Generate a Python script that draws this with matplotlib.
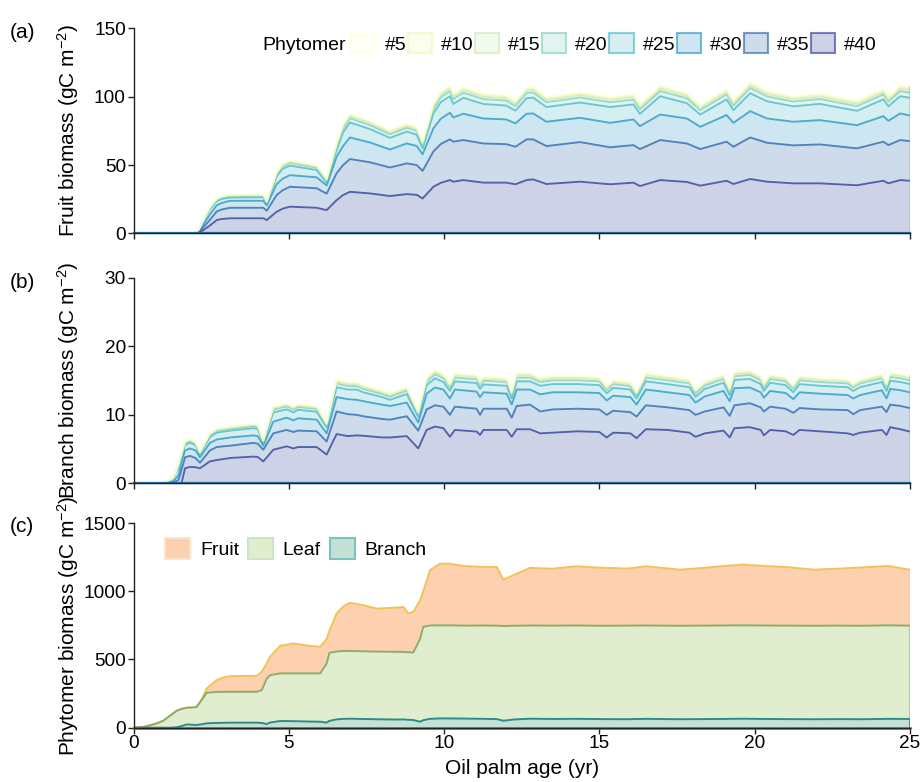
import numpy as np
import matplotlib
matplotlib.use('Agg')
import matplotlib.pyplot as plt
from matplotlib.patches import Patch
from matplotlib.colors import to_rgba

plt.rcParams['font.family'] = ['Liberation Sans', 'DejaVu Sans']
plt.rcParams['mathtext.fontset'] = 'custom'
plt.rcParams['mathtext.rm'] = 'Liberation Sans'
plt.rcParams['mathtext.it'] = 'Liberation Sans:italic'

# ---------------- data ----------------
phytomer_labels = ['#5', '#10', '#15', '#20', '#25', '#30', '#35', '#40']

# (a) fruit biomass per phytomer group (gC m-2)
t_a = [0, 1.95, 2.1, 2.25, 2.45, 2.68, 2.85, 3.11, 4.18, 4.29, 4.61, 4.8, 5.04, 5.9, 6.22, 6.54, 6.75, 6.97,
       7.62, 8.26, 8.8, 9.12, 9.31, 9.66, 9.9, 10.19,
       10.3, 10.62, 11.27, 12.0, 12.3, 12.66, 12.87, 13.3, 14.38, 15.35, 16.1, 16.31, 16.96, 17.82, 18.25,
       19.1, 19.32, 19.86, 20.4, 21.25, 22.1, 23.3, 24.15, 24.31, 24.69, 25.0]
fruit_p5 = [0, 0, 3, 9.7, 19, 25.5, 27.3, 28.3, 28.5, 23.5, 45, 51, 53.6, 50, 40, 66, 80, 87.8, 82.5, 75.6, 80.5,
            78, 67.1, 95, 104, 108.5,
            102.4, 107.3, 102.4, 101.2, 97.1, 107, 107.5, 100, 103.6, 100, 102, 94.6, 108.5, 103, 94, 106, 97.5,
            110.9, 104.5, 100.5, 102.5, 97, 106, 100.5, 108.5, 107.3]
fruit_p10 = [0, 0, 2.9, 9.6, 18.8, 25.2, 27.0, 28.0, 28.2, 23.3, 44.6, 50.5, 53.1, 49.5, 39.6, 65.3, 79.2, 86.9,
             81.7, 74.8, 79.7, 77.2, 66.4, 94.1, 103, 107.4,
             101.4, 106.2, 101.4, 100.2, 96.1, 105.9, 106.4, 99.0, 102.6, 99.0, 101.0, 93.7, 107.4, 102.0, 93.1,
             104.9, 96.5, 109.8, 103.5, 99.5, 101.5, 96.0, 104.9, 99.5, 107.4, 106.2]
fruit_p15 = [0, 0, 2.8, 9.5, 18.5, 24.9, 26.7, 27.7, 27.9, 23.0, 44.0, 49.9, 52.4, 48.9, 39.1, 64.5, 78.2, 85.9,
             80.7, 73.9, 78.7, 76.3, 65.6, 92.9, 101.7, 106.1,
             100.1, 104.9, 100.1, 99.0, 95.0, 104.6, 105.1, 97.8, 101.3, 97.8, 99.8, 92.5, 106.1, 100.7, 91.9,
             103.7, 95.4, 108.5, 102.2, 98.3, 100.2, 94.9, 103.7, 98.3, 106.1, 104.9]
fruit_p20 = [0, 0, 2.6, 9.3, 18.2, 24.5, 26.2, 27.2, 27.4, 22.6, 43.2, 49.0, 51.5, 48.0, 38.4, 63.4, 76.8, 84.3,
             79.2, 72.6, 77.3, 74.9, 64.4, 91.2, 99.8, 104.2,
             98.3, 103.0, 98.3, 97.2, 93.2, 102.7, 103.2, 96.0, 99.5, 96.0, 97.9, 90.8, 104.2, 98.9, 90.2, 101.8,
             93.6, 106.5, 100.3, 96.5, 98.4, 93.1, 101.8, 96.5, 104.2, 103.0]
fruit_p25 = [0, 0, 2.3, 9.0, 17.4, 23.6, 25.2, 26.2, 26.4, 21.7, 41.6, 47.2, 49.6, 46.3, 37.0, 61.1, 74, 81.2,
             76.3, 69.9, 74.5, 72.2, 62.1, 87.9, 96.2, 100.4,
             94.7, 99.3, 94.7, 93.6, 89.8, 99.0, 99.4, 92.5, 95.8, 92.5, 94.4, 87.5, 100.4, 95.3, 87.0, 98.1,
             90.2, 102.6, 96.7, 93.0, 94.8, 89.7, 98.1, 93.0, 100.4, 99.3]
fruit_p30 = [0, 0, 1.2, 6.5, 13.5, 20.5, 22.3, 23.8, 23.8, 20.5, 36, 40, 42.6, 41, 35, 56, 64, 70.2, 66.5, 61.4,
             65.8, 64, 57.9, 77, 84, 88.3,
             84.9, 87.6, 84.1, 83.4, 80.5, 87.6, 87.8, 81.7, 84.6, 80.9, 83.4, 78.5, 87.0, 84.1, 78.0, 86.6, 80.9,
             89.5, 84.1, 81.7, 82.9, 79.2, 85.8, 82.4, 87.8, 86.3]
fruit_p35 = [0, 0, 0.6, 4.5, 9.5, 16, 17.5, 18.7, 18.7, 16.5, 28, 31.5, 34.1, 33, 29, 44, 50, 54.4, 52, 48.2,
             51.2, 50, 45.7, 60, 65.5, 68.8,
             67.1, 68.3, 65.8, 65.3, 63.4, 68.8, 68.8, 63.9, 66.8, 63.0, 64.6, 61.7, 68.3, 65.8, 61.7, 67.1, 63.4,
             70.2, 66.3, 64.4, 65.1, 62.2, 67.1, 64.6, 68.3, 67.5]
fruit_p40 = [0, 0, 0.2, 2.4, 5.5, 9.7, 10.5, 11.0, 11.0, 9.7, 15.8, 18.0, 19.5, 18.7, 17.0, 24.3, 28, 30.4,
             29.2, 27.3, 28.7, 28.2, 25.5, 34.1, 37, 39.0,
             37.8, 39.0, 37.1, 37.1, 35.9, 39.0, 39.5, 36.1, 37.8, 35.9, 37.1, 34.6, 39.0, 37.6, 34.9, 38.5, 36.1,
             39.8, 37.8, 36.6, 36.6, 35.2, 38.5, 36.6, 39.0, 38.5]

# (b) branch biomass per phytomer group (gC m-2)
t_b = [0, 0.95, 1.28, 1.45, 1.55, 1.66, 1.82, 2.0, 2.14, 2.46, 2.68, 3.11, 3.86, 4.0, 4.18, 4.5, 4.93, 5.15,
       5.3, 5.9, 6.22, 6.54, 6.9, 7.19, 7.4, 8.0, 8.26, 8.8, 9.17, 9.44, 9.71, 9.98, 10.19, 10.35, 11.05, 11.16,
       11.27, 12.02, 12.18, 12.34, 12.77, 13.1, 13.5, 14.3, 15.0, 15.24, 15.45, 16.0, 16.2, 16.5, 17.2, 17.9,
       18.1, 18.4, 19.0, 19.2, 19.35, 19.85, 20.2, 20.3, 20.5, 21.0, 21.25, 21.45, 22.1, 23.0, 23.18, 23.4,
       24.1, 24.25, 24.37, 24.7, 25.0]
branch_p5 = [0, 0, 0.8, 2.8, 4.5, 6.1, 6.45, 6.0, 4.6, 7.3, 8.0, 8.3, 8.7, 8.6, 6.3, 11.2, 11.7, 11.2, 11.6, 11.3,
             8.8, 15.2, 14.8, 14.8, 14.4, 13.6, 13.2, 14.1, 10.5, 15.5, 16.6, 16.0, 14.6, 16.1, 15.85, 14.9, 15.6,
             15.4, 13.4, 16.1, 16.1, 15.4, 15.7, 15.7, 15.5, 14.2, 15.1, 14.8, 13.4, 16.1, 15.7, 15.2, 13.7, 14.9,
             15.9, 13.9, 16.3, 16.5, 15.7, 14.6, 15.9, 15.5, 14.4, 15.7, 15.4, 15.2, 14.6, 15.2, 16.0, 14.6, 16.2,
             16.0, 15.7]
branch_p10 = [0, 0, 0.79, 2.77, 4.45, 6.05, 6.4, 5.95, 4.55, 7.25, 7.9, 8.2, 8.6, 8.5, 6.25, 11.1, 11.6, 11.1,
              11.5, 11.2, 8.7, 15.05, 14.65, 14.65, 14.25, 13.45, 13.05, 13.95, 10.4, 15.35, 16.45, 15.85, 14.45,
              15.95, 15.7, 14.75, 15.45, 15.25, 13.25, 15.95, 15.95, 15.25, 15.55, 15.55, 15.35, 14.05, 14.95,
              14.65, 13.25, 15.95, 15.55, 15.05, 13.55, 14.75, 15.75, 13.75, 16.15, 16.35, 15.55, 14.45, 15.75,
              15.35, 14.25, 15.55, 15.25, 15.05, 14.45, 15.05, 15.85, 14.45, 16.05, 15.85, 15.55]
branch_p15 = [0, 0, 0.78, 2.75, 4.4, 6.0, 6.3, 5.9, 4.5, 7.15, 7.85, 8.15, 8.55, 8.45, 6.2, 11.0, 11.45, 11.0,
              11.35, 11.05, 8.6, 14.9, 14.5, 14.5, 14.1, 13.3, 12.95, 13.8, 10.3, 15.2, 16.25, 15.7, 14.3, 15.8,
              15.55, 14.6, 15.3, 15.1, 13.15, 15.8, 15.8, 15.1, 15.4, 15.4, 15.2, 13.9, 14.8, 14.5, 13.15, 15.8,
              15.4, 14.9, 13.45, 14.6, 15.6, 13.6, 16.0, 16.15, 15.4, 14.3, 15.6, 15.2, 14.1, 15.4, 15.1, 14.9,
              14.3, 14.9, 15.7, 14.3, 15.9, 15.7, 15.4]
branch_p20 = [0, 0, 0.77, 2.7, 4.3, 5.85, 6.2, 5.75, 4.4, 7.0, 7.7, 7.95, 8.35, 8.25, 6.05, 10.75, 11.25, 10.75,
              11.15, 10.85, 8.45, 14.6, 14.2, 14.2, 13.8, 13.05, 12.65, 13.55, 10.1, 14.9, 15.95, 15.35, 14.0,
              15.45, 15.2, 14.3, 15.0, 14.8, 12.85, 15.45, 15.45, 14.8, 15.05, 15.05, 14.9, 13.65, 14.5, 14.2,
              12.85, 15.45, 15.05, 14.6, 13.15, 14.3, 15.25, 13.35, 15.65, 15.85, 15.05, 14.0, 15.25, 14.9, 13.8,
              15.05, 14.8, 14.6, 14.0, 14.6, 15.35, 14.0, 15.55, 15.35, 15.05]
branch_p25 = [0, 0, 0.7, 2.4, 4.1, 5.6, 5.95, 5.55, 4.25, 6.75, 7.4, 7.7, 8.05, 7.95, 5.85, 10.35, 10.8, 10.35,
              10.75, 10.45, 8.15, 14.05, 13.7, 13.7, 13.3, 12.6, 12.2, 13.05, 9.7, 14.35, 15.35, 14.8, 13.5, 14.9,
              14.65, 13.8, 14.45, 14.25, 12.4, 14.9, 14.9, 14.25, 14.5, 14.5, 14.35, 13.15, 13.95, 13.7, 12.4,
              14.9, 14.5, 14.05, 12.65, 13.8, 14.7, 12.85, 15.1, 15.25, 14.5, 13.5, 14.7, 14.35, 13.3, 14.5,
              14.25, 14.05, 13.5, 14.05, 14.8, 13.5, 15.0, 14.8, 14.5]
branch_p30 = [0, 0, 0.3, 1.2, 3.2, 4.8, 5.1, 4.8, 3.8, 5.9, 6.4, 6.7, 7.0, 6.9, 5.5, 9.0, 9.6, 9.2, 9.5, 9.3, 7.3,
              12.6, 12.3, 12.2, 12.0, 11.5, 11.3, 11.8, 8.9, 13.1, 14.0, 13.7, 12.4, 13.7, 13.4, 12.6, 13.3, 13.1,
              11.5, 13.7, 13.7, 13.0, 13.3, 13.3, 13.2, 12.1, 12.8, 12.6, 11.5, 13.7, 13.3, 12.9, 11.8, 12.7, 13.5,
              12.0, 13.9, 14.0, 13.3, 12.5, 13.5, 13.2, 12.3, 13.3, 13.1, 12.9, 12.4, 12.9, 13.6, 12.4, 13.8, 13.6,
              13.3]
branch_p35 = [0, 0, 0.1, 0.5, 2.0, 3.8, 4.0, 3.7, 3.0, 4.8, 5.3, 5.5, 5.9, 5.8, 4.9, 7.3, 7.8, 7.5, 7.7, 7.6, 6.1,
              10.5, 10.1, 10.0, 9.8, 9.4, 9.3, 9.8, 7.7, 10.8, 11.4, 11.2, 10.0, 11.2, 10.9, 10.0, 10.9, 10.9, 9.6,
              11.3, 11.5, 10.5, 10.8, 10.9, 10.8, 10.0, 10.6, 10.4, 9.75, 11.4, 11.1, 10.7, 10.0, 10.5, 11.1, 9.85,
              11.4, 11.7, 11.1, 10.5, 11.2, 10.9, 10.3, 11.0, 10.8, 10.7, 10.1, 10.7, 11.2, 10.4, 11.5, 11.3, 11.0]
branch_p40 = [0, 0, 0, 0, 0.1, 2.2, 2.4, 2.35, 2.2, 3.2, 3.4, 3.7, 3.9, 3.85, 3.2, 4.9, 5.4, 5.1, 5.3, 5.3, 4.2,
              7.2, 6.9, 7.0, 6.95, 6.7, 6.7, 6.9, 5.1, 7.8, 8.3, 8.05, 6.8, 7.8, 7.56, 7.07, 7.8, 7.8, 6.8, 7.9,
              7.9, 7.3, 7.4, 7.6, 7.5, 6.7, 7.4, 7.3, 6.6, 7.9, 7.8, 7.4, 6.8, 7.3, 7.7, 6.7, 8.05, 8.2, 7.8, 7.0,
              7.8, 7.6, 7.07, 7.8, 7.6, 7.3, 7.07, 7.4, 7.8, 7.07, 8.2, 7.9, 7.56]

# (c) phytomer biomass by organ (gC m-2)
t_c = [0, 0.3, 0.53, 0.75, 0.96, 1.2, 1.39, 1.55, 1.71, 2.03, 2.19, 2.36, 2.68, 2.89, 3.11, 3.97, 4.13, 4.29,
       4.4, 4.72, 5.15, 5.68, 6.01, 6.22, 6.31, 6.54, 6.76, 6.97, 7.4, 7.83, 8.48, 8.69, 8.85, 9.01, 9.23, 9.33,
       9.55, 9.87, 10.19, 10.62, 11.27, 11.7, 11.91, 12.23, 12.77, 13.5, 14.25, 15.1, 15.9, 16.5, 17.6, 18.3,
       18.9, 19.64, 20.3, 21.0, 21.9, 22.75, 23.5, 24.3, 25.0]
branch_c = [0, 0, 0, 0, 0, 0, 3, 12, 24, 20, 25, 32, 35, 36, 37, 37, 35, 27, 38, 49, 48, 45, 44, 37, 50, 61, 65,
            66, 64, 62, 60, 61, 58, 56, 44, 55, 65, 68, 68, 67, 65, 63, 51, 60, 66, 64, 65, 63, 62, 65, 62, 63,
            64, 66, 64, 63, 62, 63, 62, 65, 64]
leaf_c = [0, 5, 17, 32, 51, 92, 121, 126, 122, 131, 177, 224, 227, 227, 226, 226, 240, 333, 347, 349, 350, 353,
          354, 433, 499, 497, 498, 496, 496, 496, 496, 494, 495, 495, 606, 684, 684, 682, 682, 681, 684, 685, 694,
          687, 683, 684, 684, 684, 686, 684, 685, 685, 685, 684, 685, 685, 685, 685, 685, 685, 684]
fruit_c = [0, 0, 0, 0, 0, 0, 0, 0, 0, 0, 5, 32, 87, 105, 115, 117, 135, 110, 135, 202, 219, 202, 195, 180, 161,
           279, 327, 353, 338, 315, 324, 330, 284, 298, 284, 261, 405, 452, 452, 437, 429, 430, 340, 370, 422,
           417, 434, 425, 418, 434, 411, 422, 434, 445, 436, 430, 411, 418, 428, 435, 410]
organ_labels = ['Fruit', 'Leaf', 'Branch']

# ---------------- figure ----------------
W, H = 922, 782
fig = plt.figure(figsize=(W / 100, H / 100), dpi=100)
L, R = 133.5 / W, 909.8 / W
AXW = 909.8 - 133.5


def add_ax(top_px, bot_px):
    return fig.add_axes([L, 1 - bot_px / H, R - L, (bot_px - top_px) / H])


axa = add_ax(28.5, 233.3)
axb = add_ax(278.0, 483.3)
axc = add_ax(523.0, 727.7)

TICK_FS = 13.7
LAB_FS = 15
LEG_FS = 14
cmap = plt.get_cmap('YlGnBu')
cpos = [0.0, 0.125, 0.25, 0.375, 0.5, 0.625, 0.75, 0.875]
FILL_A, LINE_A = 0.22, 0.72


def draw_phytomer(ax, t, series):
    t = np.asarray(t, float)
    arrs = [np.asarray(s, float) for s in series]
    for i, up in enumerate(arrs):
        lo = arrs[i + 1] if i < len(arrs) - 1 else np.zeros_like(up)
        ax.fill_between(t, lo, up, facecolor=to_rgba(cmap(cpos[i]), FILL_A), edgecolor='none', lw=0)
    for i, up in enumerate(arrs[::-1]):
        k = len(arrs) - 1 - i
        ax.plot(t, up, color=cmap(cpos[k]), alpha=LINE_A, lw=1.35, solid_joinstyle='round')
    ax.plot([t[-1], t[-1]], [0, arrs[0][-1]], color=cmap(0.5), alpha=0.45, lw=1.2)
    ax.plot(t, np.zeros_like(t), color=cmap(0.7), lw=1.6, clip_on=False)


draw_phytomer(axa, t_a, [fruit_p5, fruit_p10, fruit_p15, fruit_p20, fruit_p25, fruit_p30, fruit_p35, fruit_p40])
draw_phytomer(axb, t_b, [branch_p5, branch_p10, branch_p15, branch_p20, branch_p25, branch_p30, branch_p35,
                         branch_p40])

# panel c stacked
tc = np.asarray(t_c, float)
b = np.asarray(branch_c, float)
lf = b + np.asarray(leaf_c, float)
tot = lf + np.asarray(fruit_c, float)
fruit_face, leaf_face, branch_face = '#fdd0b0', '#e0eecf', '#c3e1d4'
axc.fill_between(tc, lf, tot, facecolor=fruit_face, lw=0)
axc.fill_between(tc, b, lf, facecolor=leaf_face, lw=0)
axc.fill_between(tc, 0, b, facecolor=branch_face, lw=0)
axc.plot([tc[-1], tc[-1]], [lf[-1], tot[-1]], color='#f8c9a4', lw=1.3)
axc.plot([tc[-1], tc[-1]], [b[-1], lf[-1]], color='#8fd3a8', lw=1.3)
axc.plot([tc[-1], tc[-1]], [0, b[-1]], color='#2b86b8', lw=1.3)
axc.plot(tc, tot, color='#f1c45a', lw=1.4, solid_joinstyle='round')
axc.plot(tc, lf, color='#8cae6c', lw=1.4, solid_joinstyle='round')
axc.plot(tc, b, color='#2e8c88', lw=1.4, solid_joinstyle='round')
axc.plot(tc, np.zeros_like(tc), color='#2b7fb8', lw=1.8, clip_on=False)

# axes styling
for ax, ylim, yt in [(axa, 150, [0, 50, 100, 150]), (axb, 30, [0, 10, 20, 30]),
                     (axc, 1500, [0, 500, 1000, 1500])]:
    ax.set_xlim(0, 25)
    ax.set_ylim(0, ylim)
    ax.set_yticks(yt)
    ax.set_xticks([0, 5, 10, 15, 20, 25])
    for s in ['top', 'right']:
        ax.spines[s].set_visible(False)
    for s in ['left', 'bottom']:
        ax.spines[s].set_linewidth(1.0)
        ax.spines[s].set_color('#222222')
    ax.tick_params(direction='out', length=4, width=1.0, labelsize=TICK_FS, pad=1.5, color='#222222')
    ax.set_facecolor('none')
axa.tick_params(labelbottom=False)
axb.tick_params(labelbottom=False)

ylabels = ['Fruit biomass (gC m$^{-2}$)', 'Branch biomass (gC m$^{-2}$)', 'Phytomer biomass (gC m$^{-2}$)']
for ax, lab in zip([axa, axb, axc], ylabels):
    ax.set_ylabel(lab, fontsize=LAB_FS)
    ax.yaxis.set_label_coords((81 - 133.5) / AXW, 0.5)
axc.set_xlabel('Oil palm age (yr)', fontsize=LAB_FS, labelpad=4.5)

for lab, top_px in [('(a)', 28.5), ('(b)', 278.0), ('(c)', 523.0)]:
    fig.text(22 / W, 1 - (top_px + 4) / H, lab, fontsize=LAB_FS, ha='center', va='center')

# legend (a)
handles_a = [Patch(facecolor=to_rgba(cmap(p), FILL_A), edgecolor=to_rgba(cmap(p), 0.6), lw=1.5)
             for p in cpos]
axa.legend(handles_a, phytomer_labels, ncol=8, loc='upper right', frameon=False,
           bbox_to_anchor=((877 - 133.5) / AXW, 1 - (33 - 28.5) / 204.8), borderaxespad=0,
           borderpad=0, fontsize=LEG_FS, handlelength=1.24, handleheight=1.24, handletextpad=0.46,
           columnspacing=0.08)
fig.text(262 / W, 1 - 45 / H, 'Phytomer', fontsize=LEG_FS, ha='left', va='center')

# legend (c)
handles_c = [Patch(facecolor=fruit_face, edgecolor='#fde2cc', lw=1.5),
             Patch(facecolor=leaf_face, edgecolor='#cce6c0', lw=1.5),
             Patch(facecolor=branch_face, edgecolor='#7fc0c2', lw=1.5)]
axc.legend(handles_c, organ_labels, ncol=3, loc='upper left', frameon=False,
           bbox_to_anchor=((165 - 133.5) / AXW, 1 - (538 - 523) / 204.7), borderaxespad=0, borderpad=0,
           fontsize=LEG_FS, handlelength=1.3, handleheight=1.25, handletextpad=0.5, columnspacing=0.45)

fig.savefig('out.png', dpi=100)
